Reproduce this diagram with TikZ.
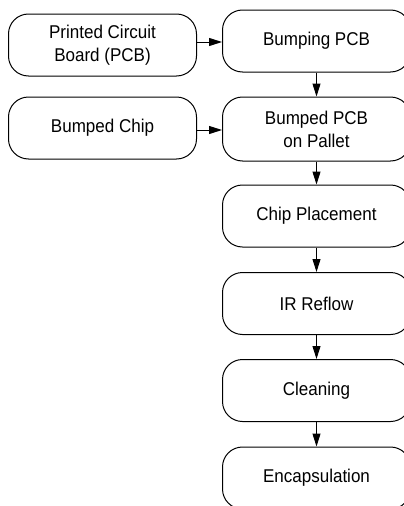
\documentclass[tikz,border=0pt]{standalone}
\usepackage{fontspec}
\setmainfont{Liberation Sans}[FakeStretch=0.92]
\usetikzlibrary{arrows.meta}
\begin{document}
\begin{tikzpicture}[x=1pt,y=-1pt,
  proc/.style={draw, line width=1pt, rounded corners=20pt, minimum width=188pt, minimum height=62pt, align=center, inner sep=0pt, font=\fontsize{18.5}{23}\selectfont},
  arr/.style={line width=1pt, -{Triangle[length=13pt,width=8pt]}}]
\useasboundingbox (0,0) rectangle (404,506);
\clip (0,0) rectangle (404,506);
\node[proc] (pcb) at (102.5,45) {Printed Circuit\\Board (PCB)};
\node[proc] (chip) at (102.5,128) {Bumped Chip};
\node[proc] (bump) at (316.5,41) {Bumping PCB};
\node[proc, minimum height=64pt] (pallet) at (316.5,129) {Bumped PCB\\on Pallet};
\node[proc] (place) at (316.5,216) {Chip Placement};
\node[proc] (ir) at (316.5,303.5) {IR Reflow};
\node[proc] (clean) at (316.5,390.5) {Cleaning};
\node[proc] (enc) at (316.5,478) {Encapsulation};
\draw[arr] (pcb.east |- 0,42) -- (bump.west |- 0,42);
\draw[arr] (chip.east |- 0,130) -- (pallet.west |- 0,130);
\draw[arr] (bump) -- (pallet);
\draw[arr] (pallet) -- (place);
\draw[arr] (place) -- (ir);
\draw[arr] (ir) -- (clean);
\draw[arr] (clean) -- (enc);
\end{tikzpicture}
\end{document}
